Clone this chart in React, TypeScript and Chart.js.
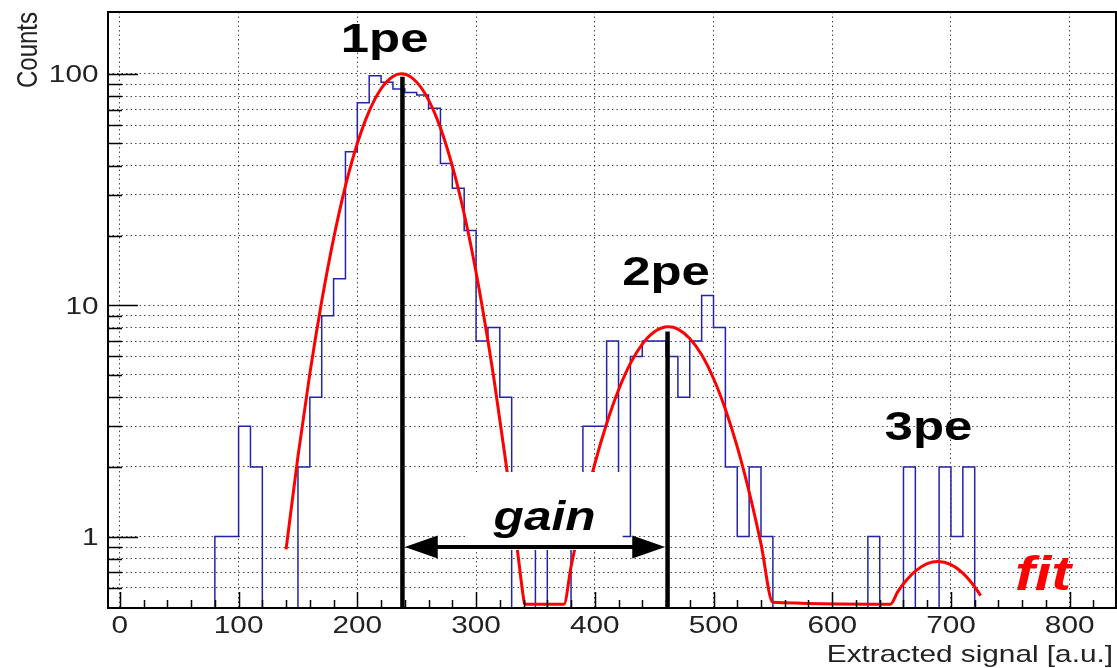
import React, { useEffect, useRef } from 'react';
import { Chart, registerables } from 'chart.js';

Chart.register(...registerables);

// ---------- data ----------
// histogram: bins of width 10, first lower edge 70
const binLowEdge = 70;
const binWidth = 10;
const binCounts = [
  0, 1, 1, 3, 2, 0, 0, 0, 2, 4,
  9, 13, 46, 75, 98, 92, 86, 83, 81, 71,
  41, 32, 21, 7, 8, 4, 0, 0, 1, 0,
  0, 1, 3, 3, 7, 1, 6, 7, 7, 6,
  4, 7, 11, 8, 2, 1, 2, 1, 0, 0,
  0, 0, 0, 0, 0, 0, 1, 0, 0, 2,
  0, 0, 2, 1, 2, 0,
];

// fit curve, points (values at the frame bottom where it runs along it)
const fitX = [
  140, 150, 160, 170, 180, 190, 200, 210, 220, 230,
  237, 245, 255, 265, 275, 285, 295, 305, 315, 325,
  335, 340, 341, 374, 380, 390, 400, 410, 420, 430,
  440, 450, 462, 470, 480, 490, 500, 510, 520, 530,
  540, 550, 649, 655, 660, 670, 680, 689, 700, 710,
  720, 725,
];
const fitY = [
  0.88, 2.22, 5.06, 10.4, 19.4, 32.8, 50.0, 69.0, 86.2, 97.4,
  100, 97.0, 85.3, 67.9, 48.9, 31.9, 18.8, 10.0, 4.83, 2.11,
  0.86, 0.54, 0.51, 0.51, 0.74, 1.28, 2.06, 3.08, 4.30, 5.60,
  6.79, 7.66, 8.06, 7.88, 7.18, 6.10, 4.82, 3.55, 2.44, 1.56,
  0.93, 0.52, 0.51, 0.575, 0.625, 0.709, 0.764, 0.78, 0.756, 0.695,
  0.606, 0.555,
];

// axes
const xTickLabels = [0, 100, 200, 300, 400, 500, 600, 700, 800];
const yTickLabels = [1, 10, 100];
const yMinorTicks = [0.6, 0.7, 0.8, 0.9, 2, 3, 4, 5, 6, 7, 8, 9, 20, 30, 40, 50, 60, 70, 80, 90];
const xTitle = 'Extracted signal [a.u.]';
const yTitle = 'Counts';

// annotations
const peakLabels = ['1pe', '2pe', '3pe'];
const peakLabelX = [223, 460, 681];
const peakLabelY = [124, 12.2, 2.62];
const peakMeans = [238, 461.3];
const peakLineTop = [97, 7.7];
const gainLabel = 'gain';
const gainLabelPos = [357.7, 1.07];
const gainArrowY = 0.9;
const gainPave = [293, 423.5, 0.875, 1.9]; // x0, x1, yBottom, yTop
const fitLabel = 'fit';
const fitLabelPos = [777.5, 0.588];

// ---------- styling ----------
const FONT = '"Liberation Sans", Arial, Helvetica, sans-serif';
const SX = 1.24; // the picture is stretched horizontally
const EMPTY_BIN_LEVEL = 0.3; // empty bins drawn below the frame bottom
const X_MIN = -10;
const X_MAX = 839;
const Y_MIN = 0.491;
const Y_MAX = 185;

function drawText(ctx: CanvasRenderingContext2D, text: string, x: number, y: number, font: string, color: string, align: CanvasTextAlign) {
  ctx.save();
  ctx.translate(x, y);
  ctx.scale(SX, 1);
  ctx.font = font;
  ctx.fillStyle = color;
  ctx.textAlign = align;
  ctx.textBaseline = 'alphabetic';
  ctx.fillText(text, 0, 0);
  ctx.restore();
}

const rootPlugin = {
  id: 'rootStyle',
  afterDraw(chart: any) {
    const { ctx, chartArea: a } = chart;
    const xs = chart.scales.x;
    const ys = chart.scales.y;
    const px = (v: number) => xs.getPixelForValue(v);
    const py = (v: number) => ys.getPixelForValue(v);
    ctx.save();

    // white pave behind "gain"
    ctx.fillStyle = '#ffffff';
    const bx0 = px(gainPave[0]);
    const bx1 = px(gainPave[1]);
    const byTop = py(gainPave[3]);
    const byBot = py(gainPave[2]);
    ctx.fillRect(bx0, byTop, bx1 - bx0, byBot - byTop);

    // peak lines
    ctx.strokeStyle = '#000';
    ctx.lineWidth = 4.5;
    peakMeans.forEach((v, i) => {
      ctx.beginPath();
      ctx.moveTo(px(v), a.bottom);
      ctx.lineTo(px(v), py(peakLineTop[i]));
      ctx.stroke();
    });

    // gain arrow
    const ax0 = px(peakMeans[0]) + 2.3;
    const ax1 = px(peakMeans[1]) - 2.3;
    const ay = py(gainArrowY);
    const head = 33;
    const half = 11.5;
    ctx.lineWidth = 4;
    ctx.beginPath();
    ctx.moveTo(ax0 + head - 3, ay);
    ctx.lineTo(ax1 - head + 3, ay);
    ctx.stroke();
    ctx.fillStyle = '#000';
    ctx.beginPath();
    ctx.moveTo(ax0, ay);
    ctx.lineTo(ax0 + head, ay - half);
    ctx.lineTo(ax0 + head, ay + half);
    ctx.closePath();
    ctx.fill();
    ctx.beginPath();
    ctx.moveTo(ax1, ay);
    ctx.lineTo(ax1 - head, ay - half);
    ctx.lineTo(ax1 - head, ay + half);
    ctx.closePath();
    ctx.fill();

    // annotation texts
    peakLabels.forEach((t, i) => {
      drawText(ctx, t, px(peakLabelX[i]), py(peakLabelY[i]), `bold 41px ${FONT}`, '#000', 'center');
    });
    drawText(ctx, gainLabel, px(gainLabelPos[0]), py(gainLabelPos[1]), `italic bold 40px ${FONT}`, '#000', 'center');
    drawText(ctx, fitLabel, px(fitLabelPos[0]), py(fitLabelPos[1]), `italic bold 48px ${FONT}`, '#ff0000', 'center');

    // frame
    ctx.strokeStyle = '#000';
    ctx.lineWidth = 2;
    ctx.strokeRect(a.left, a.top, a.right - a.left, a.bottom - a.top);

    // inward ticks
    ctx.lineWidth = 1.5;
    ctx.beginPath();
    [...yTickLabels, ...yMinorTicks].forEach((v) => {
      const len = yTickLabels.includes(v) ? 30 : 14;
      const y = Math.round(py(v)) + 0.5;
      ctx.moveTo(a.left, y);
      ctx.lineTo(a.left + len, y);
    });
    for (let v = 0; v <= X_MAX; v += 20) {
      const len = v % 100 === 0 ? 16 : 8;
      const x = Math.round(px(v)) + 0.5;
      ctx.moveTo(x, a.bottom);
      ctx.lineTo(x, a.bottom - len);
    }
    ctx.stroke();

    // tick labels
    xTickLabels.forEach((v) => {
      drawText(ctx, String(v), px(v), a.bottom + 25, `24px ${FONT}`, '#222', 'center');
    });
    yTickLabels.forEach((v) => {
      drawText(ctx, String(v), a.left - 9.5, py(v) + 8.6, `24px ${FONT}`, '#222', 'right');
    });

    // axis titles
    drawText(ctx, xTitle, a.right - 3, a.bottom + 53.5, `24px ${FONT}`, '#222', 'right');
    ctx.save();
    ctx.translate(37, a.top);
    ctx.scale(SX, 1);
    ctx.rotate(-Math.PI / 2);
    ctx.font = `24px ${FONT}`;
    ctx.fillStyle = '#222';
    ctx.textAlign = 'right';
    ctx.textBaseline = 'alphabetic';
    ctx.fillText(yTitle, 0, 0);
    ctx.restore();

    ctx.restore();
  },
};

export default function App() {
  const ref = useRef<HTMLCanvasElement>(null);

  useEffect(() => {
    const canvas = ref.current;
    if (!canvas) return;
    const histData = binCounts.map((c, i) => ({ x: binLowEdge + i * binWidth, y: c > 0 ? c : EMPTY_BIN_LEVEL }));
    const fitData = fitX.map((x, i) => ({ x, y: fitY[i] }));
    const gridColor = 'rgba(0,0,0,0.72)';

    const chart = new Chart(canvas, {
      type: 'line',
      data: {
        datasets: [
          {
            label: 'fit',
            data: fitData,
            borderColor: '#ff0000',
            borderWidth: 3,
            pointRadius: 0,
            cubicInterpolationMode: 'monotone',
            fill: false,
          },
          {
            label: 'Extracted signal',
            data: histData,
            borderColor: '#2323a8',
            borderWidth: 1.5,
            pointRadius: 0,
            stepped: true,
            fill: false,
          },
        ],
      },
      options: {
        responsive: false,
        devicePixelRatio: 1,
        animation: false,
        layout: { padding: { left: 108, top: 12, right: 1, bottom: 60 } },
        plugins: { legend: { display: false }, tooltip: { enabled: false } },
        scales: {
          x: {
            type: 'linear',
            min: X_MIN,
            max: X_MAX,
            grid: { color: gridColor, lineWidth: 1, drawTicks: false },
            border: { display: false, dash: [1.5, 3] },
            ticks: { display: false },
            afterBuildTicks: (s: any) => {
              s.ticks = xTickLabels.map((v) => ({ value: v }));
            },
          },
          y: {
            type: 'logarithmic',
            min: Y_MIN,
            max: Y_MAX,
            grid: { color: gridColor, lineWidth: 1, drawTicks: false },
            border: { display: false, dash: [1.5, 3] },
            ticks: { display: false },
            afterBuildTicks: (s: any) => {
              s.ticks = [...yMinorTicks, ...yTickLabels].sort((p, q) => p - q).map((v) => ({ value: v }));
            },
          },
        },
      },
      plugins: [rootPlugin],
    } as any);

    return () => chart.destroy();
  }, []);

  return (
    <div style={{ position: 'fixed', left: 0, top: 0, width: 1117, height: 668, background: '#fff' }}>
      <canvas ref={ref} width={1117} height={668} style={{ display: 'block' }} />
    </div>
  );
}
